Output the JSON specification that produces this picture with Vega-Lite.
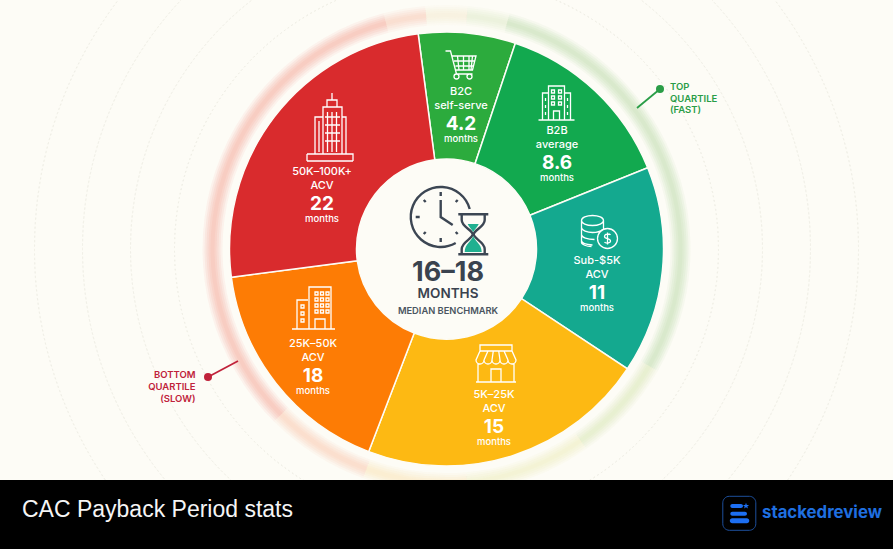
{
  "$schema": "https://vega.github.io/schema/vega-lite/v6.json",
  "width": 893,
  "height": 498,
  "autosize": "none",
  "padding": {"left": 0, "top": 0, "right": 0, "bottom": 51},
  "background": "#000000",
  "view": {"fill": "#fdfcf6", "stroke": null},
  "config": {"text": {"font": "Inter", "baseline": "middle"}},
  "datasets": {
    "segments": [
      {"segment": "B2C self-serve", "line1": "B2C", "line2": "self-serve", "months": 4.2, "start": -7.5, "end": 18.5, "across": 14.5, "down": -143},
      {"segment": "B2B average", "line1": "B2B", "line2": "average", "months": 8.6, "start": 18.5, "end": 68, "across": 110.5, "down": -104},
      {"segment": "Sub-$5K ACV", "line1": "Sub-$5K", "line2": "ACV", "months": 11, "start": 68, "end": 123.5, "across": 150.5, "down": 26},
      {"segment": "5K-25K ACV", "line1": "5K–25K", "line2": "ACV", "months": 15, "start": 123.5, "end": 201, "across": 47.5, "down": 160},
      {"segment": "25K-50K ACV", "line1": "25K–50K", "line2": "ACV", "months": 18, "start": 201, "end": 262.5, "across": -133.5, "down": 109},
      {"segment": "50K-100K+ ACV", "line1": "50K–100K+", "line2": "ACV", "months": 22, "start": 262.5, "end": 352.5, "across": -124.5, "down": -63}
    ],
    "halo": [
      {"start": -15, "end": -5, "tone": "a"},
      {"start": -5, "end": 5, "tone": "b"},
      {"start": 5, "end": 15, "tone": "c"},
      {"start": 15, "end": 120, "tone": "d"},
      {"start": 120, "end": 145, "tone": "e"},
      {"start": 145, "end": 175, "tone": "f"},
      {"start": 175, "end": 200, "tone": "g"},
      {"start": 200, "end": 225, "tone": "h"},
      {"start": 225, "end": 345, "tone": "i"}
    ],
    "circles": [
      {"start": 0, "end": 360, "r": 272},
      {"start": 0, "end": 360, "r": 316},
      {"start": 0, "end": 360, "r": 364},
      {"start": 0, "end": 360, "r": 412}
    ]
  },
  "encoding": {
    "theta": {"field": "start", "type": "quantitative", "scale": {"domain": [0, 360], "range": [0, 6.283185]}},
    "theta2": {"field": "end"}
  },
  "layer": [
    {
      "data": {"name": "circles"},
      "mark": {"type": "arc", "fill": null, "stroke": "#f0efe6", "strokeWidth": 1, "strokeDash": [1.5, 3]},
      "encoding": {
        "radius": {"field": "r", "type": "quantitative", "scale": {"type": "linear", "domain": [0, 450], "range": [0, 450]}},
        "radius2": {"field": "r"}
      }
    },
    {
      "data": {"name": "halo"},
      "layer": [
        {"mark": {"type": "arc", "innerRadius": 224, "outerRadius": 244, "opacity": 0.15}},
        {"mark": {"type": "arc", "innerRadius": 226, "outerRadius": 242, "opacity": 0.2}},
        {"mark": {"type": "arc", "innerRadius": 228, "outerRadius": 240, "opacity": 0.25}},
        {"mark": {"type": "arc", "innerRadius": 230, "outerRadius": 238, "opacity": 0.3}},
        {"mark": {"type": "arc", "innerRadius": 232, "outerRadius": 236, "opacity": 0.35}}
      ],
      "encoding": {
        "fill": {
          "field": "tone", "type": "nominal", "legend": null,
          "scale": {
            "domain": ["a", "b", "c", "d", "e", "f", "g", "h", "i"],
            "range": ["#fad6c6", "#f7efdc", "#e8efd6", "#cfe5c0", "#e2edc6", "#f3f1cc", "#fbecc8", "#fbd8c2", "#f7bfb4"]
          }
        }
      }
    },
    {
      "data": {"name": "segments"},
      "mark": {"type": "arc", "innerRadius": 90, "outerRadius": 217, "stroke": "#fdfcf6", "strokeWidth": 1.5},
      "encoding": {
        "fill": {
          "field": "segment", "type": "nominal", "legend": null,
          "scale": {
            "domain": ["B2C self-serve", "B2B average", "Sub-$5K ACV", "5K-25K ACV", "25K-50K ACV", "50K-100K+ ACV"],
            "range": ["#2cab3d", "#12a94f", "#14a98f", "#fdb913", "#fd7c05", "#d92b2d"]
          }
        }
      }
    },
    {
      "encoding": {
        "theta": null,
        "theta2": null,
        "x": {"field": "across", "type": "quantitative", "axis": null, "scale": {"domain": [-446.5, 446.5]}},
        "y": {"field": "down", "type": "quantitative", "axis": null, "scale": {"domain": [249, -249]}}
      },
      "resolve": {"scale": {"shape": "independent"}},
      "layer": [
        {
          "data": {"values": [{"across": -446.5, "across2": 446.5, "down": 231, "down2": 300}]},
          "mark": {"type": "rect", "color": "#000000"},
          "encoding": {"x2": {"field": "across2"}, "y2": {"field": "down2"}}
        },
        {
          "data": {"name": "segments"},
          "mark": {"type": "text", "color": "#ffffff", "fontSize": 11, "fontWeight": 500, "dy": -14},
          "encoding": {"text": {"field": "line1"}}
        },
        {
          "data": {"name": "segments"},
          "mark": {"type": "text", "color": "#ffffff", "fontSize": 11, "fontWeight": 500},
          "encoding": {"text": {"field": "line2"}}
        },
        {
          "data": {"name": "segments"},
          "mark": {"type": "text", "color": "#ffffff", "fontSize": 19, "fontWeight": 700, "dy": 18},
          "encoding": {"text": {"field": "months"}}
        },
        {
          "data": {"name": "segments"},
          "mark": {"type": "text", "color": "#ffffff", "fontSize": 9.5, "fontWeight": 500, "dy": 33},
          "encoding": {"text": {"value": "months"}}
        },
        {
          "data": {"values": [
            {"icon": "tower", "across": -114.5, "down": -122},
            {"icon": "cart", "across": 14, "down": -184},
            {"icon": "office", "across": 110, "down": -146},
            {"icon": "coins", "across": 153, "down": -17.5},
            {"icon": "shop", "across": 49.5, "down": 114},
            {"icon": "block", "across": -133.5, "down": 59}
          ]},
          "mark": {"type": "point", "filled": false, "size": 4, "stroke": "#ffffff", "strokeWidth": 1.3, "opacity": 1},
          "encoding": {
            "shape": {
              "field": "icon", "type": "nominal", "legend": null,
              "scale": {
                "domain": ["tower", "cart", "office", "coins", "shop", "block"],
                "range": [
                  "M-25 34H21M-25 27H21V34M-25 27V34M-9 27V-20H10V27M-5 -20V-27H5V-20M0 -27V-34M-17 27V-10H-9M10 -10H14V27M-13 -6V25M-4.5 -15V25M0 -15V25M4.5 -15V25M-7 -10H8M-7 -2H8M-7 6H8M-7 14H8",
                  "M-15 -14H-10L-4 9H12M-8.5 -9H15.5L12 5H-5M-6.5 -4H14.3M-5 1H13M-3 -9L-1.5 5M3 -9V5M8.5 -9V5M12 -9L10.5 5M-1.5 11.5a2.5 2.5 0 1 1 -5 0a2.5 2.5 0 1 1 5 0M11.5 11.5a2.5 2.5 0 1 1 -5 0a2.5 2.5 0 1 1 5 0",
                  "M-18 17H18M-8 17V-17H8V17M-8 -10H-14V17M8 -10H14V17M-3 17V8H3V17M-5 -13h3v3h-3zM2 -13h3v3h-3zM-5 -7h3v3h-3zM2 -7h3v3h-3zM-5 -1h3v3h-3zM2 -1h3v3h-3zM-11 -5v3M-11 2v3M-11 9v3M11 -5v3M11 2v3M11 9v3",
                  "M-18 -11a11 5 0 1 0 22 0a11 5 0 1 0 -22 0M-18 -11V11C-18 13 -13 15 -8 15M-18 -4C-18 -1 -12 1 -7 1C-3 1 1 0 3 -2M-18 3C-18 6 -12 8 -5 8M-18 9C-18 12 -13 13 -7 13.500M4 -11V-3M18 7a10 10 0 1 1 -20 0a10 10 0 1 1 20 0M11 3.500C10 2 5 2 5 5C5 8 11 6 11 9.500C11 12 6 12 5 10.500M8 1V13",
                  "M-16 -12V-18H16V-12M-16 -12H16L20 -3a4 4 0 0 1 -8 0a4 4 0 0 1 -8 0a4 4 0 0 1 -8 0a4 4 0 0 1 -8 0a4 4 0 0 1 -8 0L-16 -12M-8 -12L-12 -3M-2.700 -12L-4 -3M2.700 -12L4 -3M8 -12L12 -3M-18 0V19H18V0M-20 19H20M-5 19V6H5V19",
                  "M-21 21H22M-16 21V-8H-5M-4 21V-21H18V21M2 21V11H12V21M2 -16h3v3h-3zM7.500 -16h3v3h-3zM13 -16h3v3h-3zM2 -10h3v3h-3zM7.500 -10h3v3h-3zM13 -10h3v3h-3zM2 -4h3v3h-3zM7.500 -4h3v3h-3zM13 -4h3v3h-3zM2 2h3v3h-3zM7.500 2h3v3h-3zM13 2h3v3h-3zM-12 -3h3v3h-3zM-12 4h3v3h-3zM-12 11h3v3h-3z"
                ]
              }
            }
          }
        },
        {
          "data": {"values": [{"icon": "clock", "across": -5.8, "down": -32}]},
          "mark": {"type": "point", "filled": false, "size": 4, "stroke": "#3c4653", "strokeWidth": 2.4, "opacity": 1},
          "encoding": {
            "shape": {
              "field": "icon", "type": "nominal", "legend": null,
              "scale": {
                "domain": ["clock"],
                "range": ["M29 -8A30 30 0 1 0 15 26M0 -17V0L12 8M0 -25V-21M-25 0H-21M0 25V21M-17 -17L-15 -15M-17 17L-15 15M17 -17L15 -15M17 17L15 15M17.600 -2.700H47.600M17.600 37.300H47.600M21 -2.700V3C21 10 32 13 32 17.300C32 21.600 21 25 21 32V37.300M44 -2.700V3C44 10 33 13 33 17.300C33 21.600 44 25 44 32V37.300"]
              }
            }
          }
        },
        {
          "data": {"values": [{"icon": "sand", "across": -5.8, "down": -32}]},
          "mark": {"type": "point", "filled": true, "size": 4, "fill": "#20b090", "strokeWidth": 0, "opacity": 1},
          "encoding": {
            "shape": {
              "field": "icon", "type": "nominal", "legend": null,
              "scale": {
                "domain": ["sand"],
                "range": ["M24 35H41C41 27 34 24 32.500 19C31 24 24 27 24 35ZM27 7H38C37 10 34 12 32.500 15C31 12 28 10 27 7Z"]
              }
            }
          }
        },
        {
          "data": {"values": [{"label": "16–18", "across": 1.5, "down": 24}]},
          "mark": {"type": "text", "color": "#3a434f", "fontSize": 27, "fontWeight": 700},
          "encoding": {"text": {"field": "label"}}
        },
        {
          "data": {"values": [{"label": "MONTHS", "across": 1.5, "down": 45}]},
          "mark": {"type": "text", "color": "#3a434f", "fontSize": 13.5, "fontWeight": 600},
          "encoding": {"text": {"field": "label"}}
        },
        {
          "data": {"values": [{"label": "MEDIAN BENCHMARK", "across": 1.5, "down": 62}]},
          "mark": {"type": "text", "color": "#4a5560", "fontSize": 9.3, "fontWeight": 600},
          "encoding": {"text": {"field": "label"}}
        },
        {
          "data": {"values": [{"across": 213.5, "down": -160, "across2": 190.5, "down2": -141}]},
          "mark": {"type": "rule", "color": "#2a9d47", "strokeWidth": 1.8},
          "encoding": {"x2": {"field": "across2"}, "y2": {"field": "down2"}}
        },
        {
          "data": {"values": [{"across": -238.5, "down": 128, "across2": -208.5, "down2": 112}]},
          "mark": {"type": "rule", "color": "#c0223a", "strokeWidth": 1.8},
          "encoding": {"x2": {"field": "across2"}, "y2": {"field": "down2"}}
        },
        {
          "data": {"values": [{"across": 213.5, "down": -160}]},
          "mark": {"type": "circle", "color": "#2a9d47", "size": 64, "opacity": 1}
        },
        {
          "data": {"values": [{"across": -238.5, "down": 128}]},
          "mark": {"type": "circle", "color": "#c0223a", "size": 64, "opacity": 1}
        },
        {
          "data": {"values": [
            {"label": "TOP", "across": 223.5, "down": -162},
            {"label": "QUARTILE", "across": 223.5, "down": -150},
            {"label": "(FAST)", "across": 223.5, "down": -139}
          ]},
          "mark": {"type": "text", "color": "#2a9d47", "fontSize": 9.5, "fontWeight": 600, "align": "left"},
          "encoding": {"text": {"field": "label"}}
        },
        {
          "data": {"values": [
            {"label": "BOTTOM", "across": -251, "down": 126},
            {"label": "QUARTILE", "across": -251, "down": 138},
            {"label": "(SLOW)", "across": -251, "down": 150}
          ]},
          "mark": {"type": "text", "color": "#c0223a", "fontSize": 9.5, "fontWeight": 600, "align": "right"},
          "encoding": {"text": {"field": "label"}}
        },
        {
          "data": {"values": [{"label": "CAC Payback Period stats", "across": -424.5, "down": 261}]},
          "mark": {"type": "text", "font": "Liberation Sans", "color": "#f5f5f5", "fontSize": 23, "align": "left"},
          "encoding": {"text": {"field": "label"}}
        },
        {
          "data": {"values": [{"label": "stackedreview", "across": 315.5, "down": 264}]},
          "mark": {"type": "text", "color": "#1f6fe0", "fontSize": 16.8, "fontWeight": 700, "align": "left"},
          "encoding": {"text": {"field": "label"}}
        },
        {
          "data": {"values": [{"icon": "frame", "across": 292.8, "down": 264.3}]},
          "mark": {"type": "point", "filled": false, "size": 4, "stroke": "#1d4f9c", "strokeWidth": 1, "opacity": 1},
          "encoding": {
            "shape": {
              "field": "icon", "type": "nominal", "legend": null,
              "scale": {"domain": ["frame"], "range": ["M-10 -17H10a6.500 6.500 0 0 1 6.500 6.500V10.500a6.500 6.500 0 0 1 -6.500 6.500H-10a6.500 6.500 0 0 1 -6.500 -6.500V-10.500a6.500 6.500 0 0 1 6.500 -6.500Z"]}
            }
          }
        },
        {
          "data": {"values": [{"icon": "bars", "across": 292.8, "down": 264.3}]},
          "mark": {"type": "point", "filled": true, "size": 4, "fill": "#1d6ff2", "strokeWidth": 0, "opacity": 1},
          "encoding": {
            "shape": {
              "field": "icon", "type": "nominal", "legend": null,
              "scale": {"domain": ["bars"], "range": ["M-7 -9.300H1.700a2 2 0 0 1 0 4H-7a2 2 0 0 1 0 -4ZM-7 -1.600H5.700a2 2 0 0 1 0 4H-7a2 2 0 0 1 0 -4ZM-7 5H7.500a2.500 2.500 0 0 1 0 5H-7a2.500 2.500 0 0 1 0 -5ZM6.700 -10.500L7.500 -8.300L9.800 -8.300L8 -6.900L8.700 -4.700L6.700 -6L4.700 -4.700L5.400 -6.900L3.600 -8.300L5.900 -8.300Z"]}
            }
          }
        }
      ]
    }
  ],
  "resolve": {"scale": {"fill": "independent"}}
}
